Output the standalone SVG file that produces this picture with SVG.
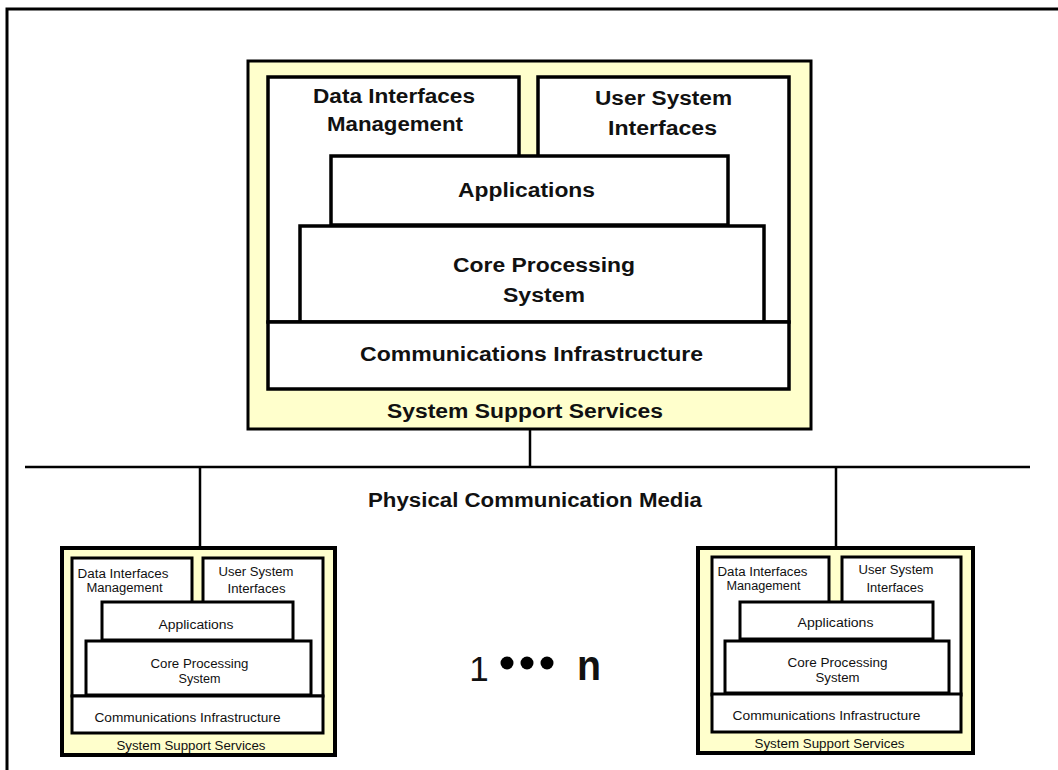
<svg xmlns="http://www.w3.org/2000/svg" width="1058" height="770" viewBox="0 0 1058 770">
<style>
.frame{fill:none;stroke:#000;stroke-width:3}
.outer{fill:#FFFFCC;stroke:#000;stroke-width:3}
.outerS{fill:#FFFFCC;stroke:#000;stroke-width:4}
.box{fill:#fff;stroke:#000;stroke-width:3.5}
.boxS{fill:#fff;stroke:#000;stroke-width:3}
.line{stroke:#000;stroke-width:2.5;fill:none}
text{font-family:"Liberation Sans",Arial,sans-serif;fill:#111;text-anchor:middle}
.big{font-size:20px;font-weight:bold}
.sm{font-size:12px}
</style>
<rect width="1058" height="770" fill="#fff"/>
<path class="frame" d="M7,770 V9 H1058"/>
<g id="connectors">
<line class="line" x1="25" y1="467" x2="1030" y2="467"/>
<line class="line" x1="530" y1="429" x2="530" y2="467"/>
<line class="line" x1="200" y1="467" x2="200" y2="548"/>
<line class="line" x1="836" y1="467" x2="836" y2="548"/>
</g>
<g id="media">
<text class="big" x="535" y="507" textLength="334" lengthAdjust="spacingAndGlyphs">Physical Communication Media</text>
</g>
<g id="main">
<rect class="outer" x="248" y="61" width="563" height="368"/>
<rect class="box" x="268" y="77" width="251" height="245"/>
<rect class="box" x="538" y="77" width="251" height="245"/>
<rect class="box" x="331" y="156" width="397" height="69"/>
<rect class="box" x="300" y="226" width="464" height="96"/>
<rect class="box" x="268" y="322" width="521" height="67"/>
<text class="big" x="394" y="103" textLength="162" lengthAdjust="spacingAndGlyphs">Data Interfaces</text>
<text class="big" x="395" y="131" textLength="136" lengthAdjust="spacingAndGlyphs">Management</text>
<text class="big" x="663.5" y="105" textLength="137" lengthAdjust="spacingAndGlyphs">User System</text>
<text class="big" x="662.5" y="135" textLength="109" lengthAdjust="spacingAndGlyphs">Interfaces</text>
<text class="big" x="526.5" y="197" textLength="137" lengthAdjust="spacingAndGlyphs">Applications</text>
<text class="big" x="544" y="272" textLength="182" lengthAdjust="spacingAndGlyphs">Core Processing</text>
<text class="big" x="544" y="302" textLength="82" lengthAdjust="spacingAndGlyphs">System</text>
<text class="big" x="531.5" y="361" textLength="343" lengthAdjust="spacingAndGlyphs">Communications Infrastructure</text>
<text class="big" x="525" y="418" textLength="276" lengthAdjust="spacingAndGlyphs">System Support Services</text>
</g>
<g id="node1">
<rect class="outerS" x="62" y="548" width="273" height="207"/>
<rect class="boxS" x="72" y="558" width="120" height="138"/>
<rect class="boxS" x="203" y="558" width="120" height="138"/>
<rect class="boxS" x="102" y="602" width="191" height="38"/>
<rect class="boxS" x="86" y="641" width="225" height="54"/>
<rect class="boxS" x="72" y="696" width="251" height="37"/>
<text class="sm" x="123" y="578" textLength="91" lengthAdjust="spacingAndGlyphs">Data Interfaces</text>
<text class="sm" x="124.5" y="592" textLength="76" lengthAdjust="spacingAndGlyphs">Management</text>
<text class="sm" x="256" y="576" textLength="75" lengthAdjust="spacingAndGlyphs">User System</text>
<text class="sm" x="256.5" y="593" textLength="58" lengthAdjust="spacingAndGlyphs">Interfaces</text>
<text class="sm" x="196" y="629" textLength="75" lengthAdjust="spacingAndGlyphs">Applications</text>
<text class="sm" x="199.5" y="668" textLength="98" lengthAdjust="spacingAndGlyphs">Core Processing</text>
<text class="sm" x="199.5" y="683" textLength="42" lengthAdjust="spacingAndGlyphs">System</text>
<text class="sm" x="187.5" y="722" textLength="186" lengthAdjust="spacingAndGlyphs">Communications Infrastructure</text>
<text class="sm" x="191" y="750" textLength="149" lengthAdjust="spacingAndGlyphs">System Support Services</text>
</g>
<g id="node2">
<rect class="outerS" x="698" y="548" width="275" height="205"/>
<rect class="boxS" x="712" y="557" width="117" height="138"/>
<rect class="boxS" x="842" y="557" width="119" height="138"/>
<rect class="boxS" x="740" y="602" width="193" height="37"/>
<rect class="boxS" x="725" y="641" width="224" height="52"/>
<rect class="boxS" x="712" y="694" width="249" height="38"/>
<text class="sm" x="762.5" y="576" textLength="90" lengthAdjust="spacingAndGlyphs">Data Interfaces</text>
<text class="sm" x="763.5" y="590" textLength="74" lengthAdjust="spacingAndGlyphs">Management</text>
<text class="sm" x="896" y="574" textLength="75" lengthAdjust="spacingAndGlyphs">User System</text>
<text class="sm" x="895" y="592" textLength="57" lengthAdjust="spacingAndGlyphs">Interfaces</text>
<text class="sm" x="835.5" y="627" textLength="76" lengthAdjust="spacingAndGlyphs">Applications</text>
<text class="sm" x="837.5" y="667" textLength="100" lengthAdjust="spacingAndGlyphs">Core Processing</text>
<text class="sm" x="837.5" y="682" textLength="44" lengthAdjust="spacingAndGlyphs">System</text>
<text class="sm" x="826.5" y="720" textLength="188" lengthAdjust="spacingAndGlyphs">Communications Infrastructure</text>
<text class="sm" x="829.5" y="748" textLength="150" lengthAdjust="spacingAndGlyphs">System Support Services</text>
</g>
<g id="range">
<text x="479" y="681" style="font-size:35px">1</text>
<circle cx="507" cy="663" r="6.5" fill="#000"/>
<circle cx="527" cy="663" r="6.5" fill="#000"/>
<circle cx="547" cy="663" r="6.5" fill="#000"/>
<text x="589" y="680" style="font-size:42px;font-weight:bold" textLength="24" lengthAdjust="spacingAndGlyphs">n</text>
</g>
</svg>
